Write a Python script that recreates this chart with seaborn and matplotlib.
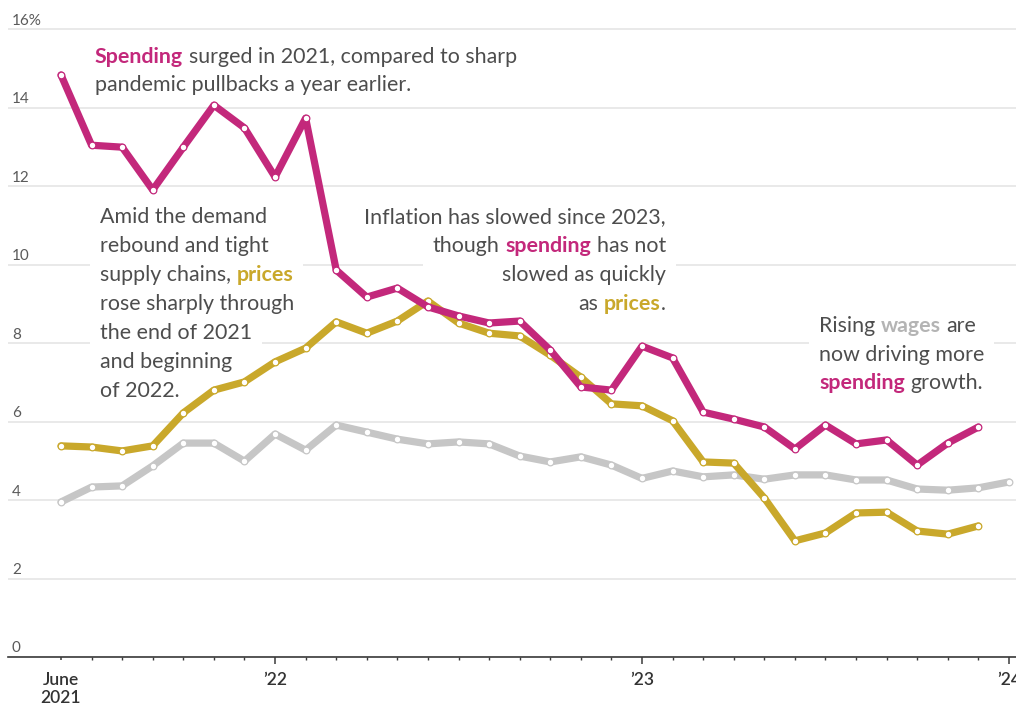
import numpy as np
import pandas as pd
import matplotlib
matplotlib.use("Agg")
import matplotlib.pyplot as plt
import seaborn as sns
from matplotlib.patches import Rectangle
from matplotlib.transforms import offset_copy, blended_transform_factory, Affine2D

# Year-over-year growth, % (monthly, June 2021 onward)
spending = [14.83, 13.04, 12.99, 11.90, 12.99, 14.06, 13.48, 12.23, 13.73, 9.86,
            9.17, 9.40, 8.92, 8.69, 8.51, 8.56, 7.82, 6.88, 6.80, 7.92,
            7.62, 6.24, 6.06, 5.86, 5.30, 5.91, 5.43, 5.53, 4.89, 5.45, 5.86]
prices = [5.38, 5.35, 5.25, 5.38, 6.22, 6.80, 7.01, 7.52, 7.87, 8.54,
          8.25, 8.56, 9.07, 8.51, 8.25, 8.18, 7.69, 7.13, 6.45, 6.40,
          6.02, 4.97, 4.94, 4.05, 2.96, 3.16, 3.67, 3.69, 3.21, 3.13, 3.34]
wages = [3.95, 4.33, 4.36, 4.87, 5.45, 5.45, 4.99, 5.68, 5.27, 5.91,
         5.73, 5.55, 5.43, 5.48, 5.43, 5.12, 4.97, 5.10, 4.89, 4.55,
         4.74, 4.59, 4.64, 4.53, 4.64, 4.64, 4.51, 4.51, 4.28, 4.25, 4.31, 4.46]

tick_months = [0, 7, 19, 31]
tick_labels = ["June\n2021", "\u201922", "\u201923", "\u201924"]
y_ticks = [0, 2, 4, 6, 8, 10, 12, 14, 16]
y_labels = ["0", "2", "4", "6", "8", "10", "12", "14", "16%"]

SPEND_C = "#c3287b"
PRICE_C = "#c9a82b"
WAGE_C = "#c6c6c6"
TEXT_C = "#4d4d4d"

sns.set_theme(style="white")
plt.rcParams["font.family"] = ["Lato", "DejaVu Sans"]

fig = plt.figure(figsize=(10.16, 7.12), dpi=100)
ax = fig.add_axes([8 / 1016, 55 / 712, 1008 / 1016, 657 / 712])

frames = []
for name, vals in [("Wages", wages), ("Prices", prices), ("Spending", spending)]:
    frames.append(pd.DataFrame({"month": np.arange(len(vals)), "value": vals, "series": name}))
df = pd.concat(frames, ignore_index=True)

colors = {"Wages": WAGE_C, "Prices": PRICE_C, "Spending": SPEND_C}
for z, name in enumerate(["Wages", "Prices", "Spending"]):
    sub = df[df["series"] == name]
    sns.lineplot(data=sub, x="month", y="value", ax=ax, color=colors[name],
                 lw=5.2, marker="o", markersize=4.8, markerfacecolor="white",
                 markeredgecolor=colors[name], markeredgewidth=0.9,
                 solid_joinstyle="round", solid_capstyle="round",
                 zorder=3 + z, legend=False)

ax.set_xlim(-1.733, 31.23)
ax.set_ylim(0, 16.74)
ax.set_xlabel("")
ax.set_ylabel("")
for side in ["top", "right", "left"]:
    ax.spines[side].set_visible(False)
ax.spines["bottom"].set_color("#3a3a3a")
ax.spines["bottom"].set_linewidth(1.2)

# horizontal grid
ax.set_yticks(y_ticks)
ax.set_yticklabels([])
ax.tick_params(axis="y", length=0)
ax.set_axisbelow(True)
ax.grid(axis="y", color="#e3e3e3", lw=1.1)
ax.grid(axis="x", visible=False)

# y labels sit just above their gridlines
ytrans = offset_copy(blended_transform_factory(ax.transAxes, ax.transData),
                     fig=fig, x=0, y=4.5, units="dots")
for v, lab in zip(y_ticks, y_labels):
    ax.text(4 / 1008, v, lab, transform=ytrans, ha="left", va="baseline",
            fontsize=11, color="#5a5a5a")

# monthly x ticks
ax.set_xticks(tick_months)
ax.set_xticklabels(tick_labels)
ax.set_xticks(np.arange(0, 32), minor=True)
ax.tick_params(axis="x", which="major", bottom=True, length=5, width=1.1,
               color="#3a3a3a", pad=6, labelsize=12.5, labelcolor="#333333")
ax.tick_params(axis="x", which="minor", bottom=True, length=2.2, width=1.0,
               color="#3a3a3a")
for lbl in ax.get_xticklabels():
    lbl.set_fontweight("semibold")
    lbl.set_linespacing(1.15)
ax.xaxis.get_major_ticks()[0].tick1line.set_markersize(2.2)

# rich-text annotation blocks
STYLES = {
    "n": dict(color=TEXT_C, fontweight="normal"),
    "s": dict(color=SPEND_C, fontweight="bold"),
    "p": dict(color=PRICE_C, fontweight="bold"),
    "w": dict(color="#b4b4b4", fontweight="bold"),
}
ANNOT_SIZE = 15.4
LINE_STEP = 29

renderer = fig.canvas.get_renderer()
_probe = ax.text(0, 0, "n n", fontsize=ANNOT_SIZE)
_w2 = _probe.get_window_extent(renderer).width
_probe.set_text("nn")
_w1 = _probe.get_window_extent(renderer).width
_probe.remove()
SPACE = _w2 - _w1


def rich_block(x, y, lines, ha="left", step=LINE_STEP):
    px, py = ax.transData.transform((x, y))
    for i, parts in enumerate(lines):
        items = []
        total = 0.0
        for txt, key in parts:
            core = txt.strip(" ")
            lead = len(txt) - len(txt.lstrip(" "))
            trail = len(txt) - len(txt.rstrip(" "))
            t = ax.text(x, y, core, fontsize=ANNOT_SIZE, ha="left", va="baseline",
                        zorder=8, **STYLES[key])
            w = t.get_window_extent(renderer).width
            items.append((t, lead, w, trail))
            total += (lead + trail) * SPACE + w
        start = 0.0 if ha == "left" else -total
        dy = -i * step
        cursor = start
        for t, lead, w, trail in items:
            cursor += lead * SPACE
            t.set_transform(offset_copy(ax.transData, fig=fig, x=cursor, y=dy, units="dots"))
            cursor += w + trail * SPACE
        bg = Rectangle((start - 10, dy - 15), total + 20, 35, facecolor="white",
                       edgecolor="none", zorder=2.5,
                       transform=Affine2D().translate(px, py))
        ax.add_patch(bg)


rich_block(1.11, 15.13, [
    [("Spending", "s"), (" surged in 2021, compared to sharp", "n")],
    [("pandemic pullbacks a year earlier.", "n")],
], step=28)

rich_block(1.275, 11.06, [
    [("Amid the demand", "n")],
    [("rebound and tight", "n")],
    [("supply chains, ", "n"), ("prices", "p")],
    [("rose sharply through", "n")],
    [("the end of 2021", "n")],
    [("and beginning", "n")],
    [("of 2022.", "n")],
])

rich_block(19.78, 11.06, [
    [("Inflation has slowed since 2023,", "n")],
    [("though ", "n"), ("spending", "s"), (" has not", "n")],
    [("slowed as quickly", "n")],
    [("as ", "n"), ("prices", "p"), (".", "n")],
], ha="right")

rich_block(24.79, 8.28, [
    [("Rising ", "n"), ("wages", "w"), (" are", "n")],
    [("now driving more", "n")],
    [("spending", "s"), (" growth.", "n")],
], step=28.5)

fig.savefig("out.png", dpi=100)
